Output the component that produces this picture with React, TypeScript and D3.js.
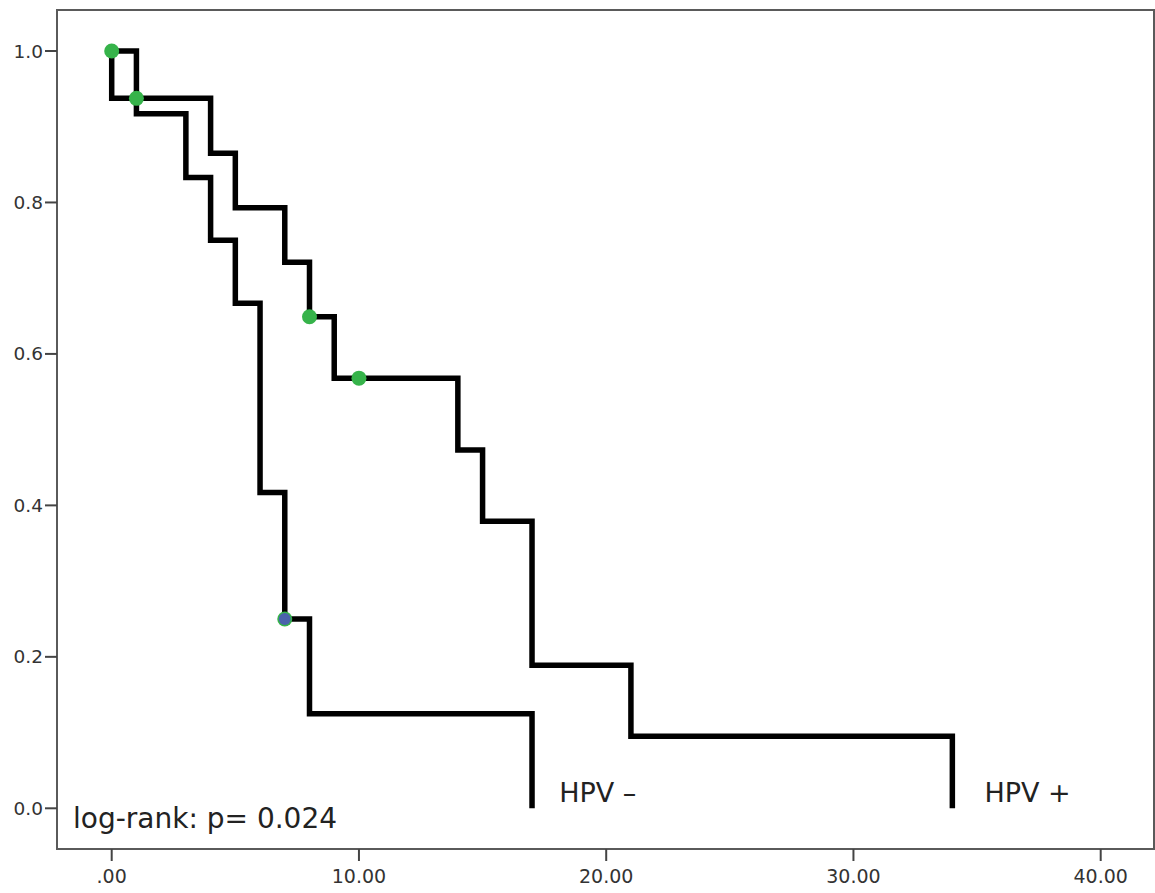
import * as d3 from "d3";

// Kaplan-Meier steps: survival from time t onward
const hpvPosTimes = [0, 0, 4, 5, 7, 8, 9, 14, 15, 17, 21, 34];
const hpvPosSurv = [1, 0.9375, 0.865, 0.793, 0.721, 0.649, 0.568, 0.473, 0.379, 0.189, 0.095, 0];
const hpvNegTimes = [0, 1, 3, 4, 5, 6, 7, 8, 17];
const hpvNegSurv = [1, 0.917, 0.833, 0.75, 0.667, 0.417, 0.25, 0.125, 0];

// censored marks
const censorGreen = [
  [0, 1],
  [1, 0.9375],
  [8, 0.649],
  [10, 0.568],
];
const censorBlue = [[7, 0.25]];

const xTicks = [0, 10, 20, 30, 40];
const xTickLabels = [".00", "10.00", "20.00", "30.00", "40.00"];
const yTicks = [0, 0.2, 0.4, 0.6, 0.8, 1.0];

const curveLabels = [
  { text: "HPV –", t: 18.1, s: 0 },
  { text: "HPV +", t: 35.3, s: 0 },
];
const annotation = "log-rank: p= 0.024";

const W = 1155;
const H = 893;
const frame = { left: 57, right: 1154, top: 10, bottom: 849 };

export default function App() {
  const x = d3.scaleLinear().domain([0, 40]).range([111.7, 1100.7]);
  const y = d3.scaleLinear().domain([0, 1]).range([808.3, 51]);

  const line = d3
    .line<[number, number]>()
    .x((d) => x(d[0]))
    .y((d) => y(d[1]))
    .curve(d3.curveStepAfter);

  const pos = hpvPosTimes.map((t, i) => [t, hpvPosSurv[i]] as [number, number]);
  const neg = hpvNegTimes.map((t, i) => [t, hpvNegSurv[i]] as [number, number]);

  const font = "'DejaVu Sans', Verdana, sans-serif";

  return (
    <>
      <style>{"body{margin:0}"}</style>
      <svg width={W} height={H} style={{ display: "block", background: "#fff" }}>
        <rect
          x={frame.left}
          y={frame.top}
          width={frame.right - frame.left}
          height={frame.bottom - frame.top}
          fill="#fff"
          stroke="#5a5a5a"
          strokeWidth={2}
        />

        {/* y axis */}
        {yTicks.map((v) => (
          <g key={v}>
            <line x1={frame.left - 12} x2={frame.left} y1={y(v)} y2={y(v)} stroke="#444" strokeWidth={2} />
            <text
              x={frame.left - 14}
              y={y(v)}
              textAnchor="end"
              dominantBaseline="central"
              fontFamily={font}
              fontSize={18.5}
              fill="#333"
            >
              {v.toFixed(1)}
            </text>
          </g>
        ))}

        {/* x axis */}
        {xTicks.map((v, i) => (
          <g key={v}>
            <line x1={x(v)} x2={x(v)} y1={frame.bottom} y2={frame.bottom + 12} stroke="#444" strokeWidth={2} />
            <text
              x={x(v)}
              y={883}
              textAnchor="middle"
              fontFamily={font}
              fontSize={19}
              fill="#333"
            >
              {xTickLabels[i]}
            </text>
          </g>
        ))}

        <path d={line(neg) ?? ""} fill="none" stroke="#000" strokeWidth={5.5} strokeLinejoin="miter" />
        <path d={line(pos) ?? ""} fill="none" stroke="#000" strokeWidth={5.5} strokeLinejoin="miter" />

        {censorGreen.map(([t, s], i) => (
          <circle key={i} cx={x(t)} cy={y(s)} r={7.5} fill="#36b34a" />
        ))}
        {censorBlue.map(([t, s], i) => (
          <g key={i}>
            <circle cx={x(t)} cy={y(s)} r={7.5} fill="#36b34a" />
            <circle cx={x(t)} cy={y(s)} r={6} fill="#4a62ac" />
          </g>
        ))}

        {curveLabels.map((l) => (
          <text
            key={l.text}
            x={x(l.t)}
            y={y(l.s) - 6}
            fontFamily={font}
            fontSize={27}
            fill="#222"
          >
            {l.text}
          </text>
        ))}

        <text x={73} y={828} fontFamily={font} fontSize={28} fill="#222">
          {annotation}
        </text>
      </svg>
    </>
  );
}
